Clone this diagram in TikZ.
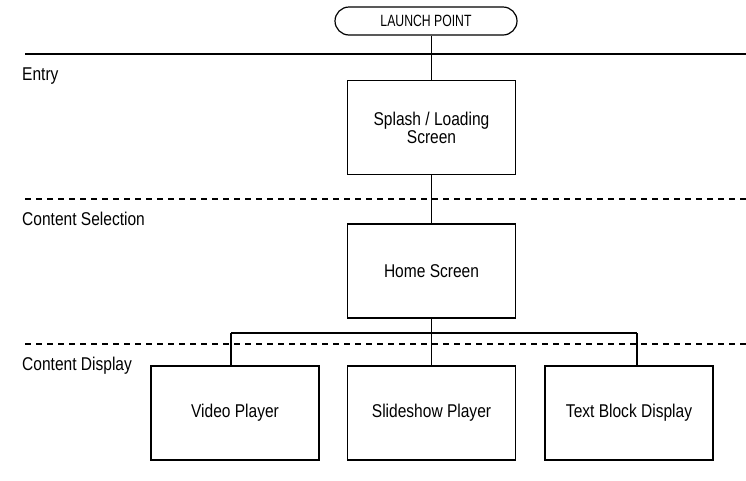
\documentclass[tikz,border=0pt]{standalone}
\usepackage{fontspec}
\setmainfont{Liberation Sans}[FakeStretch=0.84]
\newfontfamily\launchfont{Liberation Sans}[FakeStretch=0.75]
\begin{document}
\begin{tikzpicture}[x=1pt,y=-1pt,
  screen/.style={draw, line width=1.2pt, minimum width=168pt, minimum height=94pt,
    align=center, inner sep=0pt, font=\fontsize{18.5}{18}\selectfont},
  lanelabel/.style={anchor=base west, inner sep=0pt, font=\fontsize{18.5}{18}\selectfont},
  link/.style={line width=1.2pt},
  lane/.style={line width=1.2pt},
  lanedash/.style={line width=1.2pt, dash pattern=on 6pt off 5pt}]
\useasboundingbox (0,0) rectangle (746,480);

% lane separators
\draw[lane] (25,54) -- (746,54);
\draw[lanedash] (25,199) -- (746,199);
\draw[lanedash] (25,344) -- (746,344);

% lane titles
\node[lanelabel] (lblEntry) at (22,80) {Entry};
\node[lanelabel] (lblSel) at (22,225) {Content Selection};
\node[lanelabel] (lblDisp) at (22,370) {Content Display};

% start terminal
\node[draw, line width=1.2pt, rounded corners=14pt, minimum width=182pt, minimum height=28pt,
  inner sep=0pt, font=\launchfont\fontsize{16.3}{16}\selectfont] (launch) at (426,21) {LAUNCH POINT};

% screens
\node[screen] (splash) at (431.5,127.5) {Splash / Loading\\Screen};
\node[screen] (home) at (431.5,271) {Home Screen};
\node[screen] (video) at (235,413) {Video Player};
\node[screen] (slides) at (431.5,413) {Slideshow Player};
\node[screen] (textblock) at (629,413) {Text Block Display};

% connectors
\coordinate (fork) at (431.5,333);
\coordinate (jv) at (231,333);
\coordinate (jt) at (637,333);
\draw[link] (splash.north |- launch.south) -- (splash.north);
\draw[link] (splash.south) -- (home.north);
\draw[link] (home.south) -- (fork);
\draw[link] (jv) -- (jt);
\draw[link] (jv) -- (jv |- video.north);
\draw[link] (fork) -- (slides.north);
\draw[link] (jt) -- (jt |- textblock.north);
\end{tikzpicture}
\end{document}
